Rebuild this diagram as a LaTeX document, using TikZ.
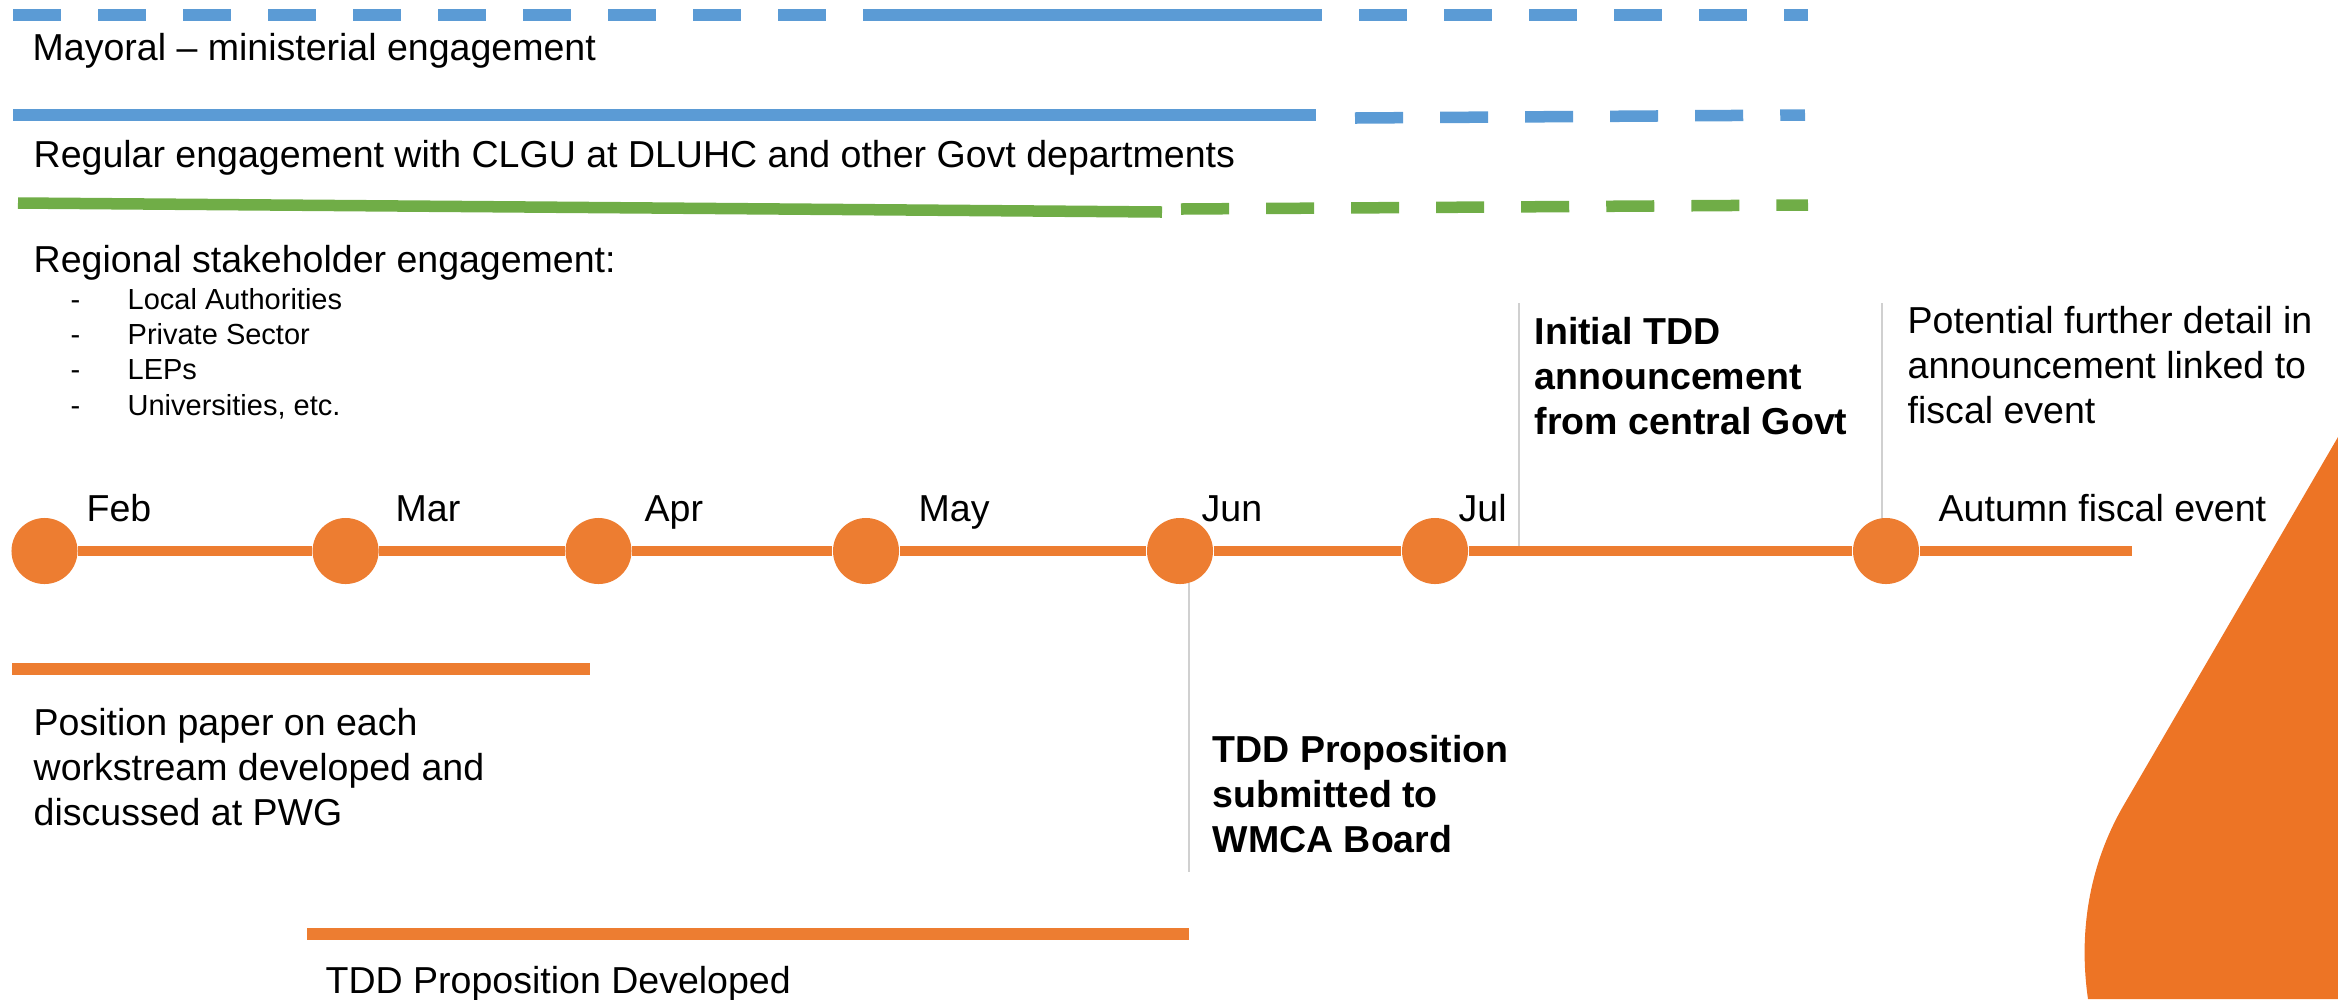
\documentclass[tikz,border=0pt]{standalone}
\usepackage{fontspec}
\setmainfont{Liberation Sans}
\usetikzlibrary{positioning}
\definecolor{tlorange}{HTML}{ED7D31}
\definecolor{wmblue}{HTML}{5B9BD5}
\definecolor{wmgreen}{HTML}{70AD47}
\definecolor{cornerorange}{HTML}{ED7425}
\definecolor{guidegrey}{HTML}{D0D0D0}

\begin{document}
\begin{tikzpicture}[x=0.01cm, y=-0.01cm,
  lbl/.style={anchor=base west, inner sep=0, align=left, font=\fontsize{10.67}{12.66}\selectfont},
  blbl/.style={lbl, font=\fontsize{10.67}{12.66}\selectfont\bfseries},
  smalllbl/.style={lbl, font=\fontsize{8.25}{9.96}\selectfont},
  bar/.style={line width=1.15mm},
  dashbar/.style={bar, dash pattern=on 4.8mm off 3.7mm},
  dot/.style={circle, fill=tlorange, inner sep=0, minimum size=6.6mm},
  guide/.style={guidegrey, line width=0.45pt}]
\useasboundingbox (0,0) rectangle (2338,999);

% corner shape
\fill[cornerorange] (2338,437) -- (2125,803) .. controls (2090,862) and (2078,930) .. (2088,999) -- (2338,999) -- cycle;

% Mayoral - ministerial engagement
\draw[wmblue, dashbar] (13,15) -- (870,15);
\draw[wmblue, bar] (870,15) -- (1322,15);
\draw[wmblue, dashbar] (1359,15) -- (1808,15);
\node[lbl] (mayoral) at (32,60) {Mayoral – ministerial engagement};

% regular engagement
\draw[wmblue, bar] (13,115) -- (1316,115);
\draw[wmblue, dashbar] (1355,118) -- (1805,115);
\node[lbl] (regular) at (33,167) {Regular engagement with CLGU at DLUHC and other Govt departments};

% regional stakeholders
\draw[wmgreen, bar] (18,203) -- (1162,212);
\draw[wmgreen, dashbar] (1181,209) -- (1808,205);
\node[lbl] (regional) at (33,272) {Regional stakeholder engagement:};
\node[smalllbl] (stakeholders) at (70,415) {\makebox[16.2pt][l]{-}Local Authorities\\
  \makebox[16.2pt][l]{-}Private Sector\\
  \makebox[16.2pt][l]{-}LEPs\\
  \makebox[16.2pt][l]{-}Universities, etc.};

% guide lines
\draw[guide] (1519,303) -- (1519,556);
\draw[guide] (1882,303) -- (1882,520);
\draw[guide] (1189,583) -- (1189,872);

% timeline
\node[dot] (feb) at (44.5,551) {};
\node[dot] (mar) at (345.6,551) {};
\node[dot] (apr) at (598.5,551) {};
\node[dot] (may) at (866,551) {};
\node[dot] (jun) at (1180,551) {};
\node[dot] (jul) at (1435,551) {};
\node[dot] (aut) at (1886,551) {};
\coordinate (tlend) at (2132,551);
\draw[tlorange, line width=1mm] (feb) -- (mar) -- (apr) -- (may) -- (jun) -- (jul) -- (aut) -- (tlend);

\node[lbl] (lfeb) at (86,521) {Feb};
\node[lbl] (lmar) at (395,521) {Mar};
\node[lbl] (lapr) at (644,521) {Apr};
\node[lbl] (lmay) at (918,521) {May};
\node[lbl] (ljun) at (1201,521) {Jun};
\node[lbl] (ljul) at (1458,521) {Jul};
\node[lbl] (laut) at (1938,521) {Autumn fiscal event};

% announcements
\node[blbl] (initial) at (1534,434) {Initial TDD\\announcement\\from central Govt};
\node[lbl] (further) at (1907,423) {Potential further detail in\\announcement linked to\\fiscal event};

% position paper
\draw[tlorange, bar] (12,669) -- (590,669);
\node[lbl] (position) at (33,825) {Position paper on each\\workstream developed and\\discussed at PWG};

% proposition
\node[blbl] (submitted) at (1212,852) {TDD Proposition\\submitted to\\WMCA Board};
\draw[tlorange, bar] (307,934) -- (1189,934);
\node[lbl] (developed) at (325,993) {TDD Proposition Developed};
\end{tikzpicture}
\end{document}
